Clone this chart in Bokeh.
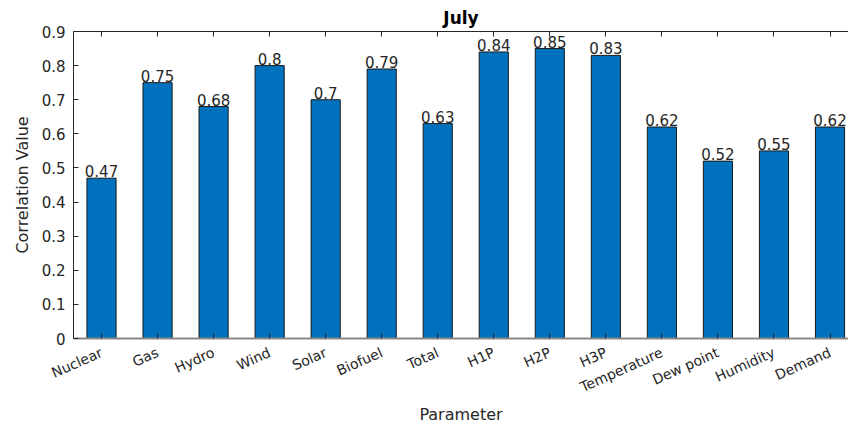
from bokeh.plotting import figure
from bokeh.models import (ColumnDataSource, FixedTicker, LinearAxis, Range1d,
                          LabelSet, AllLabels)
from bokeh.core.properties import value
from bokeh.embed import file_html
from bokeh.resources import INLINE

categories = ["Nuclear", "Gas", "Hydro", "Wind", "Solar", "Biofuel", "Total",
              "H1P", "H2P", "H3P", "Temperature", "Dew point", "Humidity", "Demand"]
values = [0.47, 0.75, 0.68, 0.80, 0.70, 0.79, 0.63,
          0.84, 0.85, 0.83, 0.62, 0.52, 0.55, 0.62]
y_ticks = [0, 0.1, 0.2, 0.3, 0.4, 0.5, 0.6, 0.7, 0.8, 0.9]
y_tick_labels = ["0", "0.1", "0.2", "0.3", "0.4", "0.5", "0.6", "0.7", "0.8", "0.9"]
title_text = "July"
x_label = "Parameter"
y_label = "Correlation Value"

FONT = "DejaVu Sans"
TXT = "#262626"

xs = list(range(1, len(categories) + 1))
src = ColumnDataSource(dict(x=xs, top=values,
                            lab=[("%g" % v) for v in values]))

p = figure(width=848, height=427, output_backend="svg", toolbar_location=None,
           x_range=Range1d(0.5, 14.33), y_range=Range1d(0, 0.9),
           x_axis_location=None, y_axis_location=None,
           min_border_left=73, min_border_right=0, min_border_top=31,
           min_border_bottom=86)
p.outline_line_color = None
p.grid.visible = False
p.background_fill_color = "white"
p.border_fill_color = "white"

p.title.text = title_text
p.title.align = "center"
p.title.text_font = FONT
p.title.text_font_size = "17px"
p.title.text_font_style = "bold"
p.title.text_color = "#000000"
p.title.standoff = 7

p.vbar(x="x", top="top", bottom=0, width=0.52, source=src,
       fill_color="#0072BD", line_color="#1a1a1a", line_width=1)

# bottom axis
xa = LinearAxis(ticker=FixedTicker(ticks=xs),
                major_label_overrides={x: c for x, c in zip(xs, categories)},
                major_label_policy=AllLabels())
xa.major_label_orientation = 0.42
xa.major_tick_in = 5
xa.major_tick_out = 0
xa.minor_tick_line_color = None
xa.axis_line_color = "#888888"
xa.axis_line_width = 2
xa.major_tick_line_color = TXT
xa.major_label_text_font = FONT
xa.major_label_text_font_size = "14px"
xa.major_label_text_color = TXT
xa.major_label_standoff = 13
xa.axis_label = x_label
xa.axis_label_text_font = FONT
xa.axis_label_text_font_size = "16px"
xa.axis_label_text_font_style = "normal"
xa.axis_label_text_color = TXT
xa.axis_label_standoff = 0
p.add_layout(xa, "below")

# top axis (box line with inward ticks, no labels)
xt = LinearAxis(ticker=FixedTicker(ticks=xs),
                major_label_overrides={x: "" for x in xs})
xt.major_label_text_color = None
xt.major_tick_in = 5
xt.major_tick_out = 0
xt.minor_tick_line_color = None
xt.axis_line_color = TXT
xt.major_tick_line_color = TXT
xt.major_label_standoff = 0
p.add_layout(xt, "above")

# left axis
ya = LinearAxis(ticker=FixedTicker(ticks=y_ticks),
                major_label_overrides={t: l for t, l in zip(y_ticks, y_tick_labels)})
ya.major_tick_in = 5
ya.major_tick_out = 0
ya.minor_tick_line_color = None
ya.axis_line_color = TXT
ya.major_tick_line_color = TXT
ya.major_label_text_font = FONT
ya.major_label_text_font_size = "15px"
ya.major_label_text_color = TXT
ya.major_label_standoff = 8
ya.axis_label = y_label
ya.axis_label_text_font = FONT
ya.axis_label_text_font_size = "16px"
ya.axis_label_text_font_style = "normal"
ya.axis_label_text_color = TXT
ya.axis_label_standoff = 7
p.add_layout(ya, "left")

labels = LabelSet(x="x", y="top", text="lab", source=src, text_align="center",
                  text_baseline="bottom", y_offset=1, text_font=value(FONT),
                  text_font_size=value("15px"), text_color=value(TXT))
p.add_layout(labels)

open("out.html", "w").write(file_html(p, INLINE))
